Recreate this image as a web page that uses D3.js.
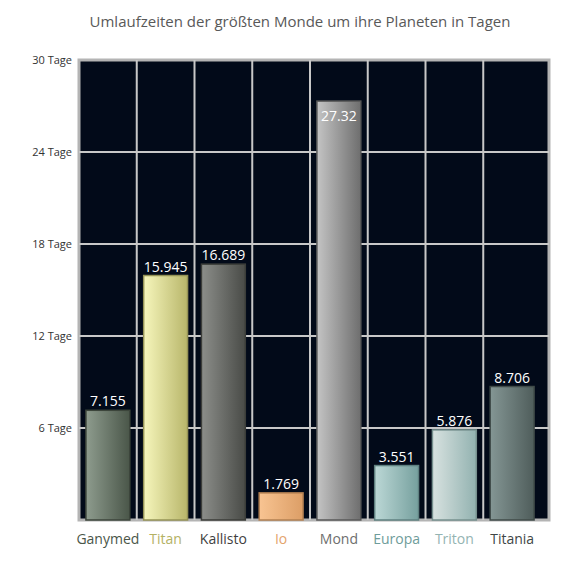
<!DOCTYPE html>
<html>
<head>
<meta charset="utf-8">
<script src="https://cdn.jsdelivr.net/npm/d3@7"></script>
<style>
  body { margin: 0; background: #fff; }
  svg { display: block; font-family: "Open Sans", "Liberation Sans", sans-serif; }
</style>
</head>
<body>
<svg id="chart"></svg>
<script>
const moons = ["Ganymed", "Titan", "Kallisto", "Io", "Mond", "Europa", "Triton", "Titania"];
const days = [7.155, 15.945, 16.689, 1.769, 27.32, 3.551, 5.876, 8.706];
const dayLabels = ["7.155", "15.945", "16.689", "1.769", "27.32", "3.551", "5.876", "8.706"];
const yTicks = [6, 12, 18, 24, 30];
const lightColors = ["#8e9c8e", "#f6f6bc", "#8c8e8a", "#f8c492", "#c4c4c4", "#bcd8d6", "#d8e2e0", "#849694"];
const darkColors = ["#4a5649", "#b8b66a", "#494b47", "#dc9e66", "#6e6e6e", "#76a09e", "#92b2b0", "#4f5d5b"];
const labelColors = ["#4a5649", "#b4b264", "#3f3f3f", "#e4a46c", "#6e6e6e", "#6e9c9a", "#94b4b2", "#3f4746"];
const title = "Umlaufzeiten der größten Monde um ihre Planeten in Tagen";

const width = 570, height = 570;
const plot = { left: 79, right: 549, top: 60, bottom: 520, bandRight: 541 };

const svg = d3.select("#chart").attr("width", width).attr("height", height);

const x = d3.scaleBand().domain(moons).range([plot.left, plot.bandRight]).paddingInner(0.24).paddingOuter(0.12);
const xGrid = d3.scaleBand().domain(moons).range([plot.left, plot.bandRight]);
const y = d3.scaleLinear().domain([0, 30]).range([plot.bottom, plot.top]);

// gradients per bar
const defs = svg.append("defs");
moons.forEach((m, i) => {
  const g = defs.append("linearGradient").attr("id", "grad" + i)
    .attr("x1", "0%").attr("x2", "100%").attr("y1", "0%").attr("y2", "0%");
  g.append("stop").attr("offset", "0%").attr("stop-color", lightColors[i]);
  g.append("stop").attr("offset", "100%").attr("stop-color", darkColors[i]);
});

// title
svg.append("text")
  .attr("x", 300).attr("y", 27)
  .attr("text-anchor", "middle")
  .attr("font-size", 15)
  .attr("fill", "#595959")
  .text(title);

// plot background + frame
svg.append("rect")
  .attr("x", plot.left).attr("y", plot.top)
  .attr("width", plot.right - plot.left).attr("height", plot.bottom - plot.top)
  .attr("fill", "#020a19")
  .attr("stroke", "#b4b4b4").attr("stroke-width", 3);

// grid lines
svg.append("g").selectAll("line.h")
  .data(yTicks.slice(0, -1))
  .join("line")
    .attr("x1", plot.left).attr("x2", plot.right)
    .attr("y1", d => y(d)).attr("y2", d => y(d))
    .attr("stroke", "#c8c8c8").attr("stroke-width", 2);

svg.append("g").selectAll("line.v")
  .data(moons.slice(1))
  .join("line")
    .attr("x1", d => xGrid(d)).attr("x2", d => xGrid(d))
    .attr("y1", plot.top).attr("y2", plot.bottom)
    .attr("stroke", "#c8c8c8").attr("stroke-width", 2);

// y axis labels
const yAxis = d3.axisLeft(y).tickValues(yTicks).tickSize(0).tickPadding(6)
  .tickFormat(d => d + " Tage");
const yAxisG = svg.append("g").attr("transform", `translate(${plot.left - 1},0)`).call(yAxis);
yAxisG.select(".domain").remove();
yAxisG.selectAll("text").attr("font-size", 11).attr("fill", "#333").attr("font-family", "Open Sans, sans-serif");

// bars
svg.append("g").selectAll("rect")
  .data(days)
  .join("rect")
    .attr("x", (d, i) => x(moons[i]))
    .attr("y", d => y(d))
    .attr("width", x.bandwidth())
    .attr("height", d => y(0) - y(d))
    .attr("fill", (d, i) => `url(#grad${i})`)
    .attr("stroke", (d, i) => d3.color(darkColors[i]).darker(0.6))
    .attr("stroke-width", 1.5);

// value labels
svg.append("g").selectAll("text")
  .data(days)
  .join("text")
    .attr("x", (d, i) => x(moons[i]) + x.bandwidth() / 2)
    .attr("y", d => d > 25 ? y(d) + 20 : y(d) - 4)
    .attr("text-anchor", "middle")
    .attr("font-size", 14)
    .attr("fill", "#fff")
    .text((d, i) => dayLabels[i]);

// category labels
const xAxis = d3.axisBottom(x).tickSize(0).tickPadding(14);
const xAxisG = svg.append("g").attr("transform", `translate(0,${plot.bottom})`).call(xAxis);
xAxisG.select(".domain").remove();
xAxisG.selectAll("text")
  .attr("font-size", 14)
  .attr("font-family", "Open Sans, sans-serif")
  .attr("fill", (d, i) => labelColors[i]);
</script>
</body>
</html>
